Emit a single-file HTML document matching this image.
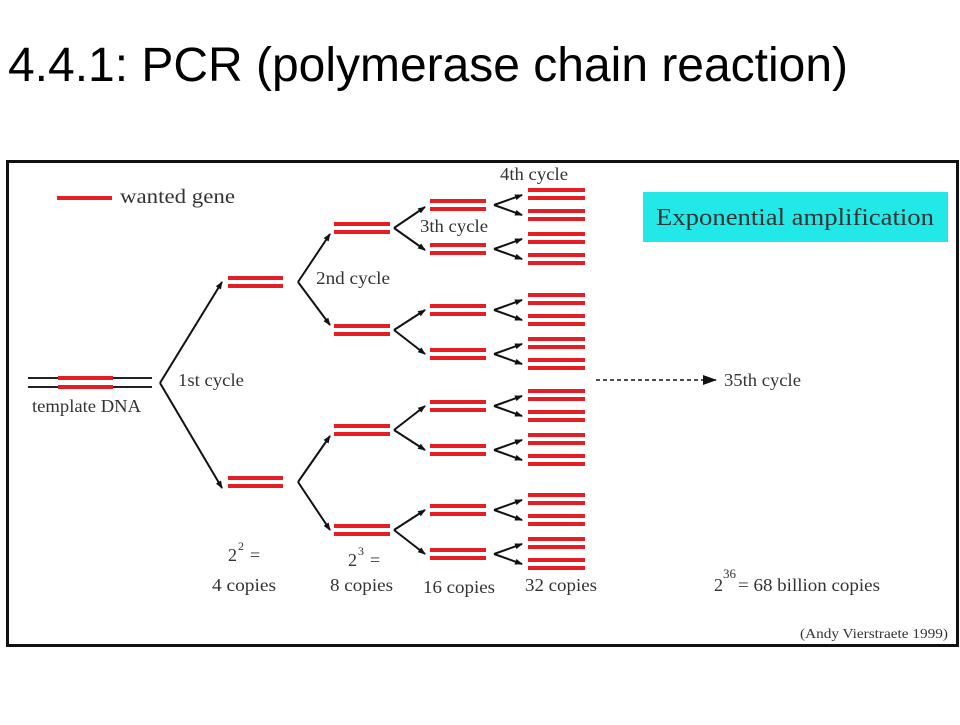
<!DOCTYPE html>
<html><head><style>
body{margin:0;width:960px;height:720px;background:#fff;overflow:hidden;}
</style></head><body>
<svg width="960" height="720" xmlns="http://www.w3.org/2000/svg" font-family="Liberation Serif, serif" fill="#333">
<defs>
<marker id="a" markerWidth="8" markerHeight="8" refX="7" refY="4" orient="auto" markerUnits="userSpaceOnUse">
<path d="M0,1 L8,4 L0,7 z" fill="#111"/></marker>
<marker id="b" markerWidth="14" markerHeight="10" refX="13" refY="5" orient="auto" markerUnits="userSpaceOnUse">
<path d="M0,0 L14,5 L0,10 z" fill="#111"/></marker>
</defs>
<text x="8" y="81" font-family="Liberation Sans, sans-serif" font-size="48" fill="#000" textLength="840" lengthAdjust="spacingAndGlyphs">4.4.1: PCR (polymerase chain reaction)</text>
<rect x="7.5" y="161.5" width="950" height="484" fill="#fff" stroke="#111" stroke-width="3"/>
<rect x="643" y="192" width="305" height="50" fill="#22e8e8"/>
<text x="656" y="225" font-size="24" fill="#333" textLength="278" lengthAdjust="spacingAndGlyphs">Exponential amplification</text>
<line x1="57" y1="198" x2="112" y2="198" stroke="#e31e24" stroke-width="4"/>
<text x="120" y="203" font-size="20" textLength="115" lengthAdjust="spacingAndGlyphs">wanted gene</text>
<g stroke-width="2">
<line x1="28" y1="378" x2="152" y2="378" stroke="#222"/>
<line x1="28" y1="387" x2="152" y2="387" stroke="#222"/>
</g>
<line x1="58" y1="378" x2="113" y2="378" stroke="#e31e24" stroke-width="4"/>
<line x1="58" y1="387" x2="113" y2="387" stroke="#e31e24" stroke-width="4"/>
<text x="32" y="412" font-size="18" textLength="109" lengthAdjust="spacingAndGlyphs">template DNA</text>
<text x="178" y="386" font-size="18" textLength="66" lengthAdjust="spacingAndGlyphs">1st cycle</text>
<text x="316" y="284" font-size="18" textLength="74" lengthAdjust="spacingAndGlyphs">2nd cycle</text>
<text x="420" y="232" font-size="18" textLength="68" lengthAdjust="spacingAndGlyphs">3th cycle</text>
<text x="500" y="180" font-size="18" textLength="68" lengthAdjust="spacingAndGlyphs">4th cycle</text>
<g stroke="#111" stroke-width="2" fill="none" marker-end="url(#a)">
<path d="M160,383 L222,282"/><path d="M160,383 L222,488"/>
<path d="M298,282 L330,234"/><path d="M298,282 L330,325"/>
<path d="M298,482 L330,436"/><path d="M298,482 L330,530"/>
<path d="M394,228 L425,207"/><path d="M394,228 L425,250"/>
<path d="M394,330 L425,310"/><path d="M394,330 L425,354"/>
<path d="M394,430 L425,406"/><path d="M394,430 L425,450"/>
<path d="M394,530 L425,510"/><path d="M394,530 L425,554"/>
</g>
<g stroke="#111" stroke-width="2" fill="none" marker-end="url(#a)">
<path d="M494,205 L522,195"/><path d="M494,205 L522,215"/>
<path d="M494,249 L522,239"/><path d="M494,249 L522,259"/>
<path d="M494,310 L522,300"/><path d="M494,310 L522,320"/>
<path d="M494,354 L522,344"/><path d="M494,354 L522,364"/>
<path d="M494,406 L522,396"/><path d="M494,406 L522,416"/>
<path d="M494,450 L522,440"/><path d="M494,450 L522,460"/>
<path d="M494,510 L522,500"/><path d="M494,510 L522,520"/>
<path d="M494,554 L522,544"/><path d="M494,554 L522,564"/>
</g>
<g stroke="#e31e24" stroke-width="4">
<line x1="228" y1="278" x2="283" y2="278"/><line x1="228" y1="286" x2="283" y2="286"/>
<line x1="228" y1="478" x2="283" y2="478"/><line x1="228" y1="486" x2="283" y2="486"/>
<line x1="334" y1="224" x2="390" y2="224"/><line x1="334" y1="232" x2="390" y2="232"/>
<line x1="334" y1="326" x2="390" y2="326"/><line x1="334" y1="334" x2="390" y2="334"/>
<line x1="334" y1="426" x2="390" y2="426"/><line x1="334" y1="434" x2="390" y2="434"/>
<line x1="334" y1="526" x2="390" y2="526"/><line x1="334" y1="534" x2="390" y2="534"/>
<line x1="430" y1="201" x2="486" y2="201"/><line x1="430" y1="209" x2="486" y2="209"/>
<line x1="430" y1="245" x2="486" y2="245"/><line x1="430" y1="253" x2="486" y2="253"/>
<line x1="430" y1="306" x2="486" y2="306"/><line x1="430" y1="314" x2="486" y2="314"/>
<line x1="430" y1="350" x2="486" y2="350"/><line x1="430" y1="358" x2="486" y2="358"/>
<line x1="430" y1="402" x2="486" y2="402"/><line x1="430" y1="410" x2="486" y2="410"/>
<line x1="430" y1="446" x2="486" y2="446"/><line x1="430" y1="454" x2="486" y2="454"/>
<line x1="430" y1="506" x2="486" y2="506"/><line x1="430" y1="514" x2="486" y2="514"/>
<line x1="430" y1="550" x2="486" y2="550"/><line x1="430" y1="558" x2="486" y2="558"/>
<g id="q"><line x1="528" y1="190" x2="585" y2="190"/><line x1="528" y1="198" x2="585" y2="198"/><line x1="528" y1="211" x2="585" y2="211"/><line x1="528" y1="219" x2="585" y2="219"/></g>
<use href="#q" y="44"/><use href="#q" y="105"/><use href="#q" y="149"/>
<use href="#q" y="201"/><use href="#q" y="245"/><use href="#q" y="305"/><use href="#q" y="349"/>
</g>
<line x1="596" y1="380" x2="716" y2="380" stroke="#111" stroke-width="1.5" stroke-dasharray="4,3" marker-end="url(#b)"/>
<text x="724" y="386" font-size="18" textLength="77" lengthAdjust="spacingAndGlyphs">35th cycle</text>
<text x="228" y="561" font-size="18">2</text><text x="238" y="550" font-size="12">2</text><text x="250" y="561" font-size="18">=</text>
<text x="212" y="591" font-size="18" textLength="64" lengthAdjust="spacingAndGlyphs">4 copies</text>
<text x="348" y="566" font-size="18">2</text><text x="358" y="555" font-size="12">3</text><text x="370" y="566" font-size="18">=</text>
<text x="330" y="591" font-size="18" textLength="63" lengthAdjust="spacingAndGlyphs">8 copies</text>
<text x="423" y="593" font-size="18" textLength="72" lengthAdjust="spacingAndGlyphs">16 copies</text>
<text x="525" y="591" font-size="18" textLength="72" lengthAdjust="spacingAndGlyphs">32 copies</text>
<text x="714" y="591" font-size="18">2</text><text x="723" y="578" font-size="13">36</text><text x="738" y="591" font-size="18" textLength="142" lengthAdjust="spacingAndGlyphs">= 68 billion copies</text>
<text x="800" y="638" font-size="14" textLength="148" lengthAdjust="spacingAndGlyphs">(Andy Vierstraete 1999)</text>
</svg>
</body></html>
